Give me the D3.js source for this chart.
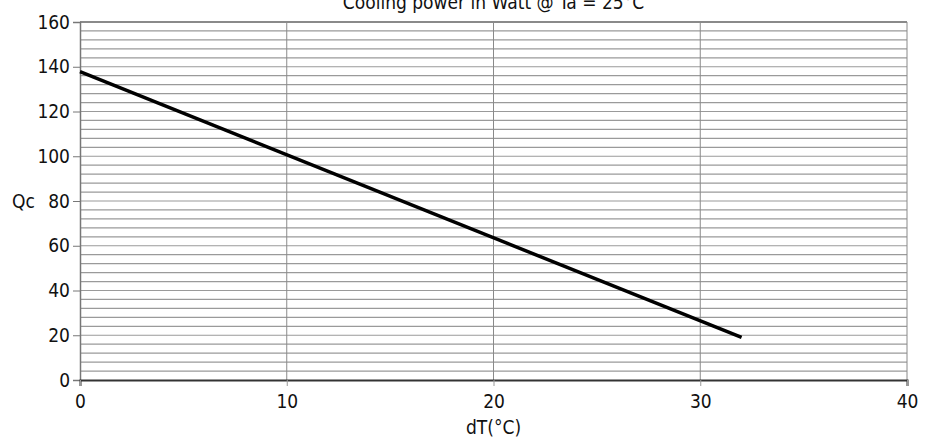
<!DOCTYPE html>
<html>
<head>
<meta charset="utf-8">
<script src="https://cdn.jsdelivr.net/npm/d3@7"></script>
<style>
  body { margin: 0; background: #fff; }
  text { font-family: "DejaVu Sans Condensed", "Open Sans", sans-serif; }
</style>
</head>
<body>
<script>
// data
var dT = [0, 32];
var Qc = [137.8, 19];
var xTicks = [0, 10, 20, 30, 40];
var yTicks = [0, 20, 40, 60, 80, 100, 120, 140, 160];
var title = "Cooling power in Watt @ Ta = 25°C";

var margin = { top: 22, right: 26, bottom: 64, left: 80 },
  w = 933 - margin.left - margin.right,
  h = 444 - margin.top - margin.bottom;

var svg = d3
  .select("body")
  .append("svg")
  .attr("width", 933)
  .attr("height", 444)
  .append("g")
  .attr("transform", "translate(" + margin.left + "," + margin.top + ")");

var x = d3.scaleLinear().domain([0, 40]).range([0, w]);
var y = d3.scaleLinear().domain([0, 160]).range([h, 0]);

// minor horizontal grid every 4
svg
  .append("g")
  .selectAll("line")
  .data(d3.range(4, 160, 4))
  .enter()
  .append("line")
  .attr("x1", 0)
  .attr("x2", w)
  .attr("y1", function (d) { return y(d); })
  .attr("y2", function (d) { return y(d); })
  .attr("stroke", "#9a9a9a")
  .attr("stroke-width", 1.2);

// vertical grid
svg
  .append("g")
  .selectAll("line")
  .data([10, 20, 30, 40])
  .enter()
  .append("line")
  .attr("x1", function (d) { return x(d); })
  .attr("x2", function (d) { return x(d); })
  .attr("y1", 0)
  .attr("y2", h)
  .attr("stroke", "#8a8a8a")
  .attr("stroke-width", 1);

// top border
svg.append("line").attr("x1", 0).attr("x2", w).attr("y1", y(160)).attr("y2", y(160))
  .attr("stroke", "#8a8a8a").attr("stroke-width", 2);

// axes
var yAxis = d3.axisLeft(y).tickValues(yTicks).tickSize(7).tickPadding(3);
var gy = svg.append("g").call(yAxis);
gy.select(".domain").attr("stroke", "#777").attr("stroke-width", 1.5);
gy.selectAll(".tick line").attr("stroke", "#777");
gy.selectAll("text").attr("font-size", 19).attr("fill", "#111");

var xAxis = d3.axisBottom(x).tickValues(xTicks).tickSize(6).tickPadding(9);
var gx = svg.append("g").attr("transform", "translate(0," + h + ")").call(xAxis);
gx.select(".domain").attr("stroke", "#333").attr("stroke-width", 2);
gx.selectAll(".tick line").attr("stroke", "#999");
gx.selectAll("text").attr("font-size", 19).attr("fill", "#111");

// line
var pts = dT.map(function (d, i) { return [d, Qc[i]]; });
svg
  .append("path")
  .datum(pts)
  .attr("fill", "none")
  .attr("stroke", "#000")
  .attr("stroke-width", 3.5)
  .attr("d", d3.line()
    .x(function (d) { return x(d[0]); })
    .y(function (d) { return y(d[1]); }));

// labels
svg.append("text").attr("x", w / 2).attr("y", -13).attr("text-anchor", "middle")
  .attr("font-size", 19).attr("fill", "#111").text(title);
svg.append("text").attr("x", w / 2).attr("y", h + 54).attr("text-anchor", "middle")
  .attr("font-size", 19).attr("fill", "#111").text("dT(°C)");
svg.append("text").attr("x", -68).attr("y", y(80) + 7)
  .attr("font-size", 19).attr("fill", "#111").text("Qc");
</script>
</body>
</html>
